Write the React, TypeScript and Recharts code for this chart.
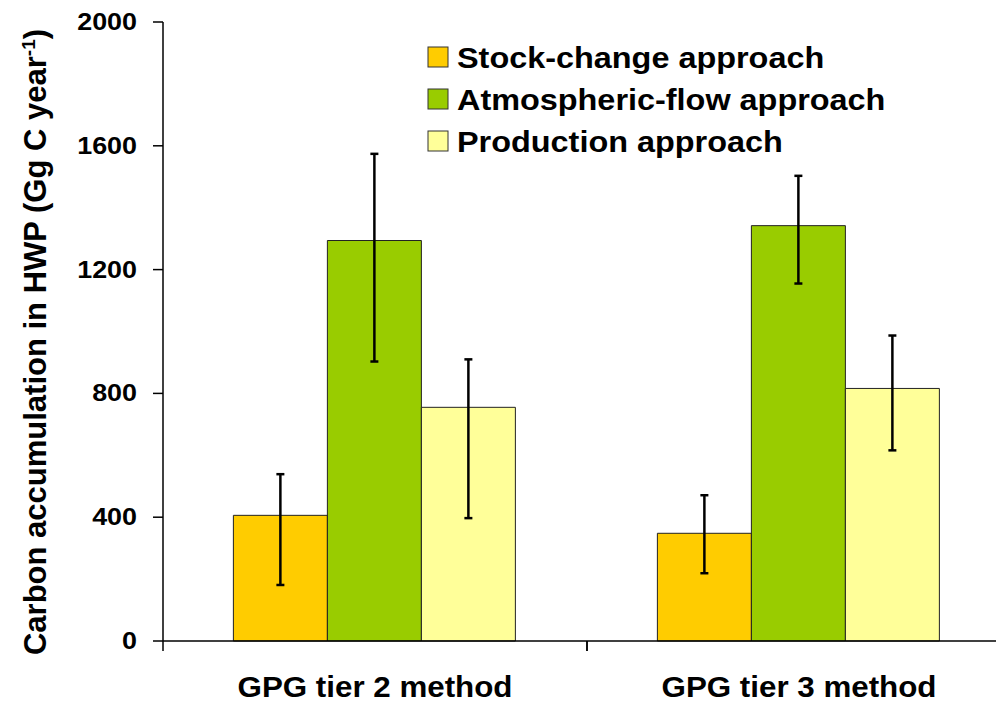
import { BarChart, Bar, XAxis, YAxis, ErrorBar } from "recharts";

const categories = ["GPG tier 2 method", "GPG tier 3 method"];

const seriesNames = ["Stock-change approach", "Atmospheric-flow approach", "Production approach"];
const seriesColors = ["#FFCC00", "#99CC00", "#FFFF99"];

const stockChange = [406, 348];
const stockLow = [181, 219];
const stockHigh = [539, 471];

const atmosphericFlow = [1294, 1342];
const atmosphericLow = [903, 1155];
const atmosphericHigh = [1574, 1503];

const production = [755, 816];
const productionLow = [397, 616];
const productionHigh = [910, 987];

const yTicks = [0, 400, 800, 1200, 1600, 2000];

const data = categories.map((name, i) => ({
  name,
  stock: stockChange[i],
  stockErr: [stockChange[i] - stockLow[i], stockHigh[i] - stockChange[i]],
  atmos: atmosphericFlow[i],
  atmosErr: [atmosphericFlow[i] - atmosphericLow[i], atmosphericHigh[i] - atmosphericFlow[i]],
  prod: production[i],
  prodErr: [production[i] - productionLow[i], productionHigh[i] - production[i]],
}));

const FONT = "'Liberation Sans', Arial, sans-serif";

function XTick(props: any) {
  const { x, y, payload } = props;
  const half = payload?.offset ?? 212;
  return (
    <g>
      <line x1={x - half} y1={y - 8} x2={x - half} y2={y + 2} stroke="#000" strokeWidth={1.5} />
      <line x1={x + half} y1={y - 8} x2={x + half} y2={y + 2} stroke="#000" strokeWidth={1.5} />
      <text
        transform={`translate(${x}, ${y + 48}) scale(1.08, 1)`}
        textAnchor="middle"
        fontFamily={FONT}
        fontWeight="bold"
        fontSize={29}
        fill="#000"
      >
        {payload.value}
      </text>
    </g>
  );
}

function YTick(props: any) {
  const { x, y, payload } = props;
  return (
    <text
      transform={`translate(${x}, ${y + 8}) scale(1.12, 1)`}
      textAnchor="end"
      fontFamily={FONT}
      fontWeight="bold"
      fontSize={24}
      fill="#000"
    >
      {payload.value}
    </text>
  );
}

// legend drawn straight into the svg so it takes no room from the plot
function LegendBox() {
  return (
    <g fontFamily={FONT} fontWeight="bold" fontSize={30} fill="#000">
      {seriesNames.map((n, i) => (
        <g key={n}>
          <rect x={428} y={47 + i * 42} width={20} height={20} fill={seriesColors[i]} stroke="#333" strokeWidth={1} />
          <text transform={`translate(457, ${68 + i * 42}) scale(1.08, 1)`}>{n}</text>
        </g>
      ))}
    </g>
  );
}

function YTitle() {
  return (
    <text
      transform="translate(46, 342) rotate(-90)"
      textAnchor="middle"
      fontFamily={FONT}
      fontWeight="bold"
      fontSize={31}
      fill="#000"
    >
      Carbon accumulation in HWP (Gg C year
      <tspan dy={-11} fontSize={19}>-1</tspan>
      <tspan dy={11}>)</tspan>
    </text>
  );
}

export default function App() {
  return (
    <div
      style={{
        position: "absolute",
        left: 0,
        top: 0,
        width: 996,
        height: 702,
        overflow: "hidden",
        background: "#fff",
      }}
    >
      <BarChart
        width={1016}
        height={702}
        data={data}
        margin={{ top: 22, right: 5, bottom: 0, left: 0 }}
        barCategoryGap="16.6%"
        barGap={0}
      >
        <XAxis
          dataKey="name"
          height={61}
          axisLine={{ stroke: "#000", strokeWidth: 1.5 }}
          tickLine={false}
          tick={<XTick />}
          interval={0}
        />
        <YAxis
          width={163}
          domain={[0, 2000]}
          ticks={yTicks}
          tickSize={10}
          tickMargin={16}
          axisLine={{ stroke: "#000", strokeWidth: 1.5 }}
          tickLine={{ stroke: "#000", strokeWidth: 1.5 }}
          tick={<YTick />}
        />
        <Bar dataKey="stock" fill={seriesColors[0]} stroke="#222" strokeWidth={1} isAnimationActive={false}>
          <ErrorBar dataKey="stockErr" width={4} stroke="#000" strokeWidth={2.5} direction="y" />
        </Bar>
        <Bar dataKey="atmos" fill={seriesColors[1]} stroke="#222" strokeWidth={1} isAnimationActive={false}>
          <ErrorBar dataKey="atmosErr" width={4} stroke="#000" strokeWidth={2.5} direction="y" />
        </Bar>
        <Bar dataKey="prod" fill={seriesColors[2]} stroke="#222" strokeWidth={1} isAnimationActive={false}>
          <ErrorBar dataKey="prodErr" width={4} stroke="#000" strokeWidth={2.5} direction="y" />
        </Bar>
        <LegendBox />
        <YTitle />
      </BarChart>
    </div>
  );
}
